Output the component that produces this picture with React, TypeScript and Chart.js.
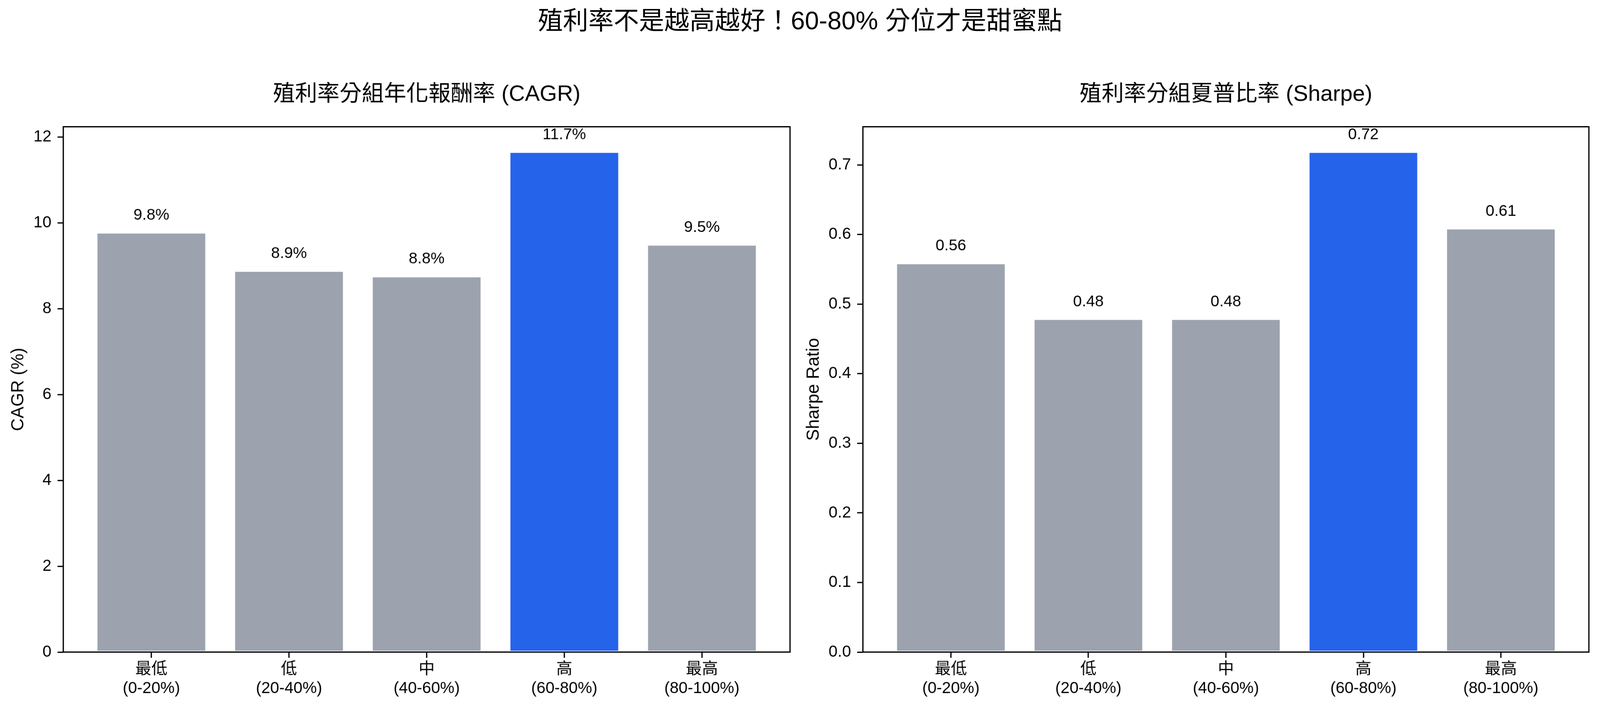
import React, { useEffect, useRef, useState } from 'react';
import Chart from 'chart.js/auto';

// quintile groups on the x axis (two-line labels)
const groups = ['最低', '低', '中', '高', '最高'];
const ranges = ['(0-20%)', '(20-40%)', '(40-60%)', '(60-80%)', '(80-100%)'];

const cagrValues = [9.78, 8.89, 8.76, 11.66, 9.5];
const sharpeValues = [0.559, 0.479, 0.479, 0.719, 0.609];

const cagrTicks = [0, 2, 4, 6, 8, 10, 12];
const sharpeTicks = [0, 0.1, 0.2, 0.3, 0.4, 0.5, 0.6, 0.7];

const highlightIndex = 3;

const FONT = '"Liberation Sans", Arial, "Noto Sans CJK TC", sans-serif';
const GRAY = '#9ca3af';
const BLUE = '#2563eb';

const W = 4172;
const H = 1844;

const framePlugin = {
  id: 'frame',
  afterDatasetsDraw(chart: any) {
    const { ctx, chartArea: a } = chart;
    ctx.save();
    ctx.strokeStyle = '#000';
    ctx.lineWidth = 3.3;
    ctx.strokeRect(a.left, a.top, a.right - a.left, a.bottom - a.top);
    ctx.restore();
  },
};

const barLabelPlugin = {
  id: 'barLabels',
  afterDatasetsDraw(chart: any, _args: any, opts: any) {
    const { ctx } = chart;
    const meta = chart.getDatasetMeta(0);
    const values = chart.data.datasets[0].data;
    ctx.save();
    ctx.fillStyle = '#000';
    ctx.font = `41px ${FONT}`;
    ctx.textAlign = 'center';
    ctx.textBaseline = 'alphabetic';
    meta.data.forEach((bar: any, i: number) => {
      ctx.fillText(opts.format(values[i].y), bar.x, bar.y - 33);
    });
    ctx.restore();
  },
};

interface BarPanelProps {
  values: number[];
  ticks: number[];
  title: string;
  yLabel: string;
  format: (v: number) => string;
  tickFormat: (v: number) => string;
  left: number;
  width: number;
  yAxisWidth: number;
  yTitlePad: number;
  padRight: number;
}

const BarPanel: React.FC<BarPanelProps> = (p) => {
  const canvasRef = useRef<HTMLCanvasElement>(null);
  const chartRef = useRef<Chart>();

  useEffect(() => {
    if (!canvasRef.current) return;
    const ctx = canvasRef.current.getContext('2d');
    if (!ctx) return;
    if (chartRef.current) chartRef.current.destroy();

    const yMax = Math.max(...p.values) * 1.05;

    chartRef.current = new Chart(ctx, {
      type: 'bar',
      data: {
        datasets: [
          {
            data: p.values.map((v, i) => ({ x: i, y: v })),
            backgroundColor: p.values.map((_, i) => (i === highlightIndex ? BLUE : GRAY)),
            borderColor: '#ffffff',
            borderWidth: 3,
            borderSkipped: false,
            categoryPercentage: 1,
            barPercentage: 0.8,
          },
        ],
      },
      options: {
        animation: false,
        responsive: false,
        devicePixelRatio: 1,
        layout: { padding: { left: 0, right: p.padRight, top: 0, bottom: 0 } },
        plugins: {
          legend: { display: false },
          tooltip: { enabled: false },
          title: {
            display: true,
            text: p.title,
            color: '#000',
            fullSize: false,
            font: { family: FONT, size: 58, weight: 'normal' },
            padding: { top: 212, bottom: 49 },
          },
          barLabels: { format: p.format },
        } as any,
        scales: {
          x: {
            type: 'linear',
            min: -0.64,
            max: 4.64,
            offset: false,
            afterBuildTicks: (scale: any) => {
              scale.ticks = groups.map((_, i) => ({ value: i }));
            },
            afterFit: (scale: any) => {
              scale.height = 143;
            },
            ticks: {
              autoSkip: false,
              maxRotation: 0,
              padding: 5,
              color: '#000',
              font: { family: FONT, size: 42 },
              callback: (_v: any, i: number) => [groups[i], ranges[i]],
            },
            grid: {
              offset: false,
              drawOnChartArea: false,
              drawTicks: true,
              tickLength: 15,
              tickWidth: 3.3,
              tickColor: '#000',
            },
            border: { display: false },
          },
          y: {
            min: 0,
            max: yMax,
            afterBuildTicks: (scale: any) => {
              scale.ticks = p.ticks.map((v) => ({ value: v }));
            },
            afterFit: (scale: any) => {
              scale.width = p.yAxisWidth;
            },
            ticks: {
              padding: 16,
              color: '#000',
              font: { family: FONT, size: 42 },
              callback: (v: any) => p.tickFormat(Number(v)),
            },
            grid: {
              drawOnChartArea: false,
              drawTicks: true,
              tickLength: 15,
              tickWidth: 3.3,
              tickColor: '#000',
            },
            border: { display: false },
            title: {
              display: true,
              text: p.yLabel,
              color: '#000',
              font: { family: FONT, size: 46 },
              padding: { top: p.yTitlePad, bottom: 0 },
            },
          },
        },
      } as any,
      plugins: [framePlugin, barLabelPlugin],
    });

    return () => {
      if (chartRef.current) {
        chartRef.current.destroy();
        chartRef.current = undefined;
      }
    };
  }, [p]);

  return (
    <canvas
      ref={canvasRef}
      width={p.width}
      height={H}
      style={{ position: 'absolute', left: p.left, top: 0, width: p.width, height: H, display: 'block' }}
    />
  );
};

const cagrProps: BarPanelProps = {
  values: cagrValues,
  ticks: cagrTicks,
  title: '殖利率分組年化報酬率 (CAGR)',
  yLabel: 'CAGR (%)',
  format: (v) => `${v.toFixed(1)}%`,
  tickFormat: (v) => String(v),
  left: 0,
  width: 2080,
  yAxisWidth: 165,
  yTitlePad: 21,
  padRight: 20,
};

const sharpeProps: BarPanelProps = {
  values: sharpeValues,
  ticks: sharpeTicks,
  title: '殖利率分組夏普比率 (Sharpe)',
  yLabel: 'Sharpe Ratio',
  format: (v) => v.toFixed(2),
  tickFormat: (v) => v.toFixed(1),
  left: 2080,
  width: 2092,
  yAxisWidth: 170,
  yTitlePad: 15,
  padRight: 29,
};

export default function App() {
  // fit the fixed-size figure into whatever the viewport really is
  const getScale = () => Math.min(window.innerWidth / W, window.innerHeight / H);
  const [scale, setScale] = useState(getScale);

  useEffect(() => {
    const onResize = () => setScale(getScale());
    window.addEventListener('resize', onResize);
    return () => window.removeEventListener('resize', onResize);
  }, []);

  return (
    <div style={{ width: W * scale, height: H * scale, overflow: 'hidden' }}>
      <style>{'html,body{margin:0;padding:0;overflow:hidden;}'}</style>
      <div
        style={{
          position: 'relative',
          width: W,
          height: H,
          background: '#fff',
          transform: `scale(${scale})`,
          transformOrigin: '0 0',
        }}
      >
        <BarPanel {...cagrProps} />
        <BarPanel {...sharpeProps} />
        <div
          style={{
            position: 'absolute',
            left: 0,
            top: 20,
            width: W,
            textAlign: 'center',
            fontFamily: FONT,
            fontSize: 66,
            lineHeight: '66px',
            color: '#000',
            whiteSpace: 'nowrap',
          }}
        >
          殖利率不是越高越好！60-80% 分位才是甜蜜點
        </div>
      </div>
    </div>
  );
}
